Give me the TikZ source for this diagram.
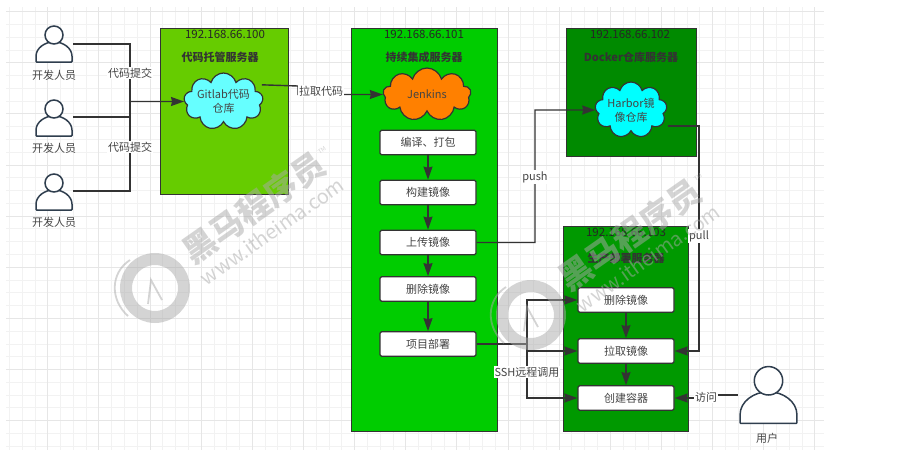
\documentclass[tikz,border=0pt]{standalone}
\usepackage{fontspec}
\setmainfont{Noto Sans CJK SC}
\usepackage{tikz}
\usetikzlibrary{positioning}
\usetikzlibrary{arrows.meta}
\usetikzlibrary{shapes.symbols}
\definecolor{linegray}{HTML}{333333}
\definecolor{textgray}{HTML}{444444}
\definecolor{actorblue}{HTML}{2F3E4E}
\definecolor{gridmajor}{HTML}{E6E6E6}
\definecolor{gridminor}{HTML}{F2F2F2}
\definecolor{gitgreen}{HTML}{66CC00}
\definecolor{cigreen}{HTML}{00CC00}
\definecolor{dockergreen}{HTML}{008A00}
\definecolor{prodgreen}{HTML}{009900}
\definecolor{gitcyan}{HTML}{66FFFF}
\definecolor{harborcyan}{HTML}{00FFFF}
\definecolor{jenkinsorange}{HTML}{FF8000}
\definecolor{markgray}{HTML}{AAAAAA}
\tikzset{
	pics/person/.style={code={
		\draw[actorblue,fill=white,line width=1.5pt,rounded corners=0.8pt] (-18,18) -- (-18,13) .. controls (-18,4) and (-9,-2) .. (0,-2) .. controls (9,-2) and (18,4) .. (18,13) -- (18,18) -- cycle;
		\draw[actorblue,fill=white,line width=1.5pt] (0,-9) circle (9);
	}},
	pics/logomark/.style={code={
		\draw[markgray,line width=12pt] (3,0) circle (29);
		\draw[markgray,line width=1.8pt] (-4,16) -- (-1,-8) -- (10,12);
		\draw[markgray,line width=1.8pt] (-22,-28) .. controls (-42,-15) and (-42,12) .. (-24,28);
	}}
}
\begin{document}
\begin{tikzpicture}[x=1pt,y=-1pt,node distance=50pt,on grid,>={Stealth[length=13pt,width=9pt,inset=1pt]},
		server/.style={rectangle,draw=linegray,line width=1.3pt,anchor=north west,inner sep=0pt},
		title/.style={font=\fontsize{11}{13}\selectfont\bfseries,text=linegray,inner sep=0pt},
		ip/.style={font=\fontsize{11.5}{14}\selectfont,text=black!85,inner sep=0pt},
		stepbox/.style={rectangle,draw=linegray,fill=white,line width=1.2pt,rounded corners=1.5pt,minimum width=96pt,minimum height=24.5pt,inner sep=0pt,font=\fontsize{11}{13}\selectfont,text=textgray},
		repo/.style={cloud,cloud puffs=9,cloud ignores aspect,draw=linegray,line width=1.2pt,inner sep=0pt,align=center,font=\fontsize{11}{14}\selectfont,text=textgray},
		lbl/.style={fill=white,inner sep=1pt,font=\fontsize{11}{13}\selectfont,text=textgray},
		caption/.style={inner sep=0pt,font=\fontsize{11}{13}\selectfont,text=textgray},
		link/.style={draw=linegray,line width=1.4pt},
		wm/.style={text=markgray,inner sep=0pt,rotate=35}]
		\useasboundingbox (0,0) rectangle (914,450);
		
		% grid paper
		\foreach \k in {0,...,63} {
			\pgfmathsetmacro{\gx}{round(8.95+12.785*\k)+0.5}
			\draw[gridminor,line width=1pt] (\gx,7) -- (\gx,450);
		}
		\foreach \k in {0,...,34} {
			\pgfmathsetmacro{\gy}{round(11.15+12.785*\k)+0.5}
			\draw[gridminor,line width=1pt] (6,\gy) -- (824,\gy);
		}
		\foreach \k in {0,...,15} {
			\pgfmathsetmacro{\gx}{round(47.3+51.14*\k)+0.5}
			\draw[gridmajor,line width=1pt] (\gx,7) -- (\gx,450);
		}
		\foreach \k in {0,...,8} {
			\pgfmathsetmacro{\gy}{round(11.15+51.14*\k)+0.5}
			\draw[gridmajor,line width=1pt] (6,\gy) -- (824,\gy);
		}
		
		% servers
		\node[server,fill=gitgreen,minimum width=128pt,minimum height=166pt]    (gitsrv)    at (160,28)  {};
		\node[server,fill=cigreen,minimum width=146pt,minimum height=403pt]     (cisrv)     at (351,28)  {};
		\node[server,fill=dockergreen,minimum width=130pt,minimum height=128pt] (dockersrv) at (566,28)  {};
		\node[server,fill=prodgreen,minimum width=125pt,minimum height=205pt]   (prodsrv)   at (563,226) {};
		
		\node[ip]    (gitip)     at (225,34)  {192.168.66.100};
		\node[ip]    (ciip)      at (424,34)  {192.168.66.101};
		\node[ip]    (dockerip)  at (630,34)  {192.168.66.102};
		\node[ip]    (prodip)    at (626,232) {192.168.66.103};
		\node[title] (gittitle)  at (220,57)  {代码托管服务器};
		\node[title] (cititle)   at (424,57)  {持续集成服务器};
		\node[title] (dockertitle) at (631,57) {Docker仓库服务器};
		\node[title] (prodtitle) at (626,258) {生产部署服务器};
		
		% clouds
		\node[repo,fill=gitcyan,minimum width=73pt,minimum height=57pt]       (gitlab)  at (223.5,101.5) {Gitlab代码\\仓库};
		\node[repo,fill=jenkinsorange,minimum width=88pt,minimum height=53pt] (jenkins) at (427,94.5)    {Jenkins};
		\node[repo,fill=harborcyan,minimum width=72pt,minimum height=56pt]    (harbor)  at (631,110)     {Harbor镜\\像仓库};
		
		% steps of the ci server
		\node[stepbox]  (compile)                        at (428,142.5)  {编译、打包};
		\node[stepbox]  (build)   [below=of compile]                     {构建镜像};
		\node[stepbox]  (upload)  [below=of build]                       {上传镜像};
		\node[stepbox]  (remove)  [below=46.5pt of upload]               {删除镜像};
		\node[stepbox]  (deploy)  [below=55pt of remove]                 {项目部署};
		
		% steps of the production server
		\node[stepbox]  (premove)                        at (626,300)    {删除镜像};
		\node[stepbox]  (ppull)   [below=51pt of premove]                {拉取镜像};
		\node[stepbox]  (pstart)  [below=47pt of ppull]                  {创建容器};
		
		% people
		\pic at (54,44) {person};
		\pic at (54,118) {person};
		\pic at (54,192) {person};
		\pic[scale=1.58] at (768.5,395) {person};
		\coordinate (dev1) at (73,44);
		\coordinate (dev2) at (73,117);
		\coordinate (dev3) at (73,191);
		\coordinate (user) at (738,395);
		\node[caption] (dev1cap) at (54,75)   {开发人员};
		\node[caption] (dev2cap) at (54,148)  {开发人员};
		\node[caption] (dev3cap) at (54,222)  {开发人员};
		\node[caption] (usercap) at (767,438) {用户};
		
		% connectors
		\coordinate (join) at (130,101.5);
		\coordinate (ssh)  at (527,344);
		\path[link] (dev1) -| (join);
		\path[link] (dev2) -| (join);
		\path[link] (dev3) -| (join);
		\path[link,->] (join) -- (gitlab.west);
		\path[link,->] ([xshift=7pt]gitlab.28) -- (298,86) -- (298,94.5) -- (jenkins.west);
		\path[link,->] (upload.east) -| (535,110) -- (harbor.west);
		\path[link,->] ([xshift=7pt]harbor.-28) -| (699,351) -- (ppull.east);
		\path[link] (deploy.east) -- (ssh);
		\path[link,->] (ssh) |- (premove.west);
		\path[link,->] (ssh) |- (ppull.west);
		\path[link,->] (ssh) |- (pstart.west);
		\path[link,->] (user) -- (706,395) -- (706,398) -- (pstart.east);
		\path[link,->] (compile) -- (build);
		\path[link,->] (build) -- (upload);
		\path[link,->] (upload) -- (remove);
		\path[link,->] (remove) -- (deploy);
		\path[link,->] (premove) -- (ppull);
		\path[link,->] (ppull) -- (pstart);
		
		% connector labels
		\node[lbl] (lblcommita) at (130,73)  {代码提交};
		\node[lbl] (lblcommitb) at (130,147) {代码提交};
		\node[lbl] (lblfetch)   at (321,91)  {拉取代码};
		\node[lbl] (lblpush)    at (535,177) {push};
		\node[lbl] (lblpull)    at (699,236) {pull};
		\node[lbl] (lblssh)     at (527,372) {SSH远程调用};
		\node[lbl] (lblvisit)   at (706,397) {访问};
		
		% watermarks
		\begin{scope}[opacity=0.5]
			\foreach \dx/\dy in {0/0,376/27} {
				\pic at (152+\dx,288+\dy) {logomark};
				\node[wm,font=\fontsize{33}{35}\selectfont\bfseries] (markname\dx) at (254+\dx,208+\dy) {黑马程序员};
				\node[wm,font=\fontsize{20}{22}\selectfont] (markweb\dx) at (272+\dx,231+\dy) {www.itheima.com};
				\node[wm,font=\fontsize{6}{7}\selectfont] (marktm\dx) at (322+\dx,150+\dy) {TM};
			}
		\end{scope}
\end{tikzpicture}
\end{document}
